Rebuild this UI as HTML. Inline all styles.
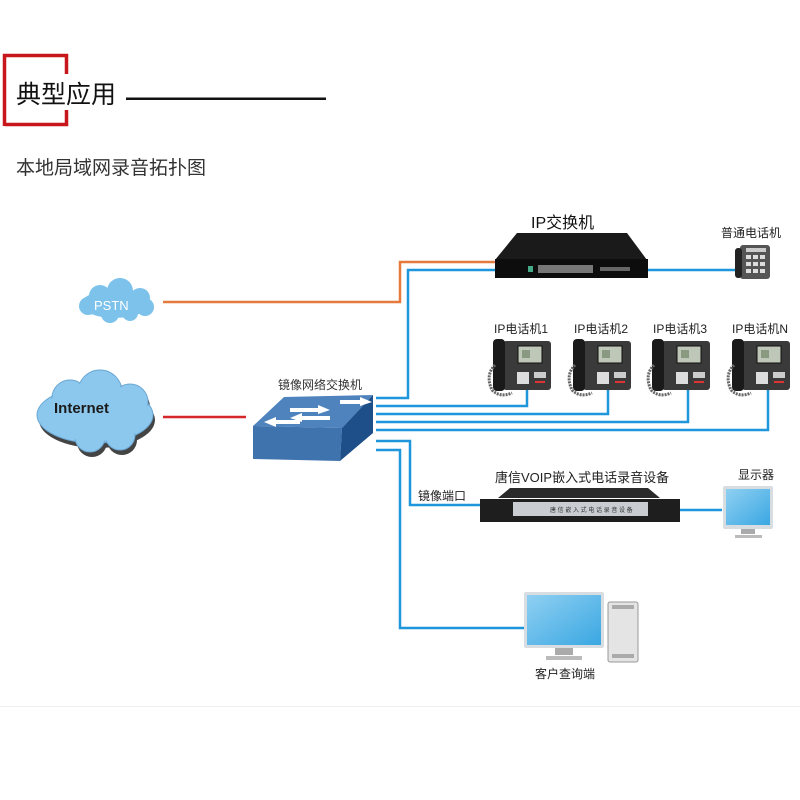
<!DOCTYPE html>
<html><head><meta charset="utf-8"><style>
html,body{margin:0;padding:0;background:#fff;}
svg{display:block;font-family:"Liberation Sans","Noto Sans CJK SC",sans-serif;}
</style></head><body>
<svg width="800" height="800" viewBox="0 0 800 800" xmlns="http://www.w3.org/2000/svg">
<defs>
<linearGradient id="scr" x1="0" y1="0" x2="1" y2="1"><stop offset="0" stop-color="#8fd0f2"/><stop offset="1" stop-color="#3aa7e2"/></linearGradient>
</defs>
<path d="M4.5 126 V55.5 H66.5 V74 M66.5 110 V124.5 H4.5" fill="none" stroke="#c8161d" stroke-width="3.5"/>
<text x="16" y="103" font-size="25" fill="#111">典型应用</text>
<rect x="126" y="97.5" width="200" height="2.5" fill="#111"/>
<text x="16" y="174" font-size="19" fill="#333">本地局域网录音拓扑图</text>

<g fill="none" stroke-width="2.5">
<path d="M163 302 H400 V262 H497" stroke="#e57a3c"/>
<path d="M163 417 H246" stroke="#d4272a"/>
<g stroke="#1e96dc">
<path d="M376 398 H408 V270 H497"/>
<path d="M648 270 H745"/>
<path d="M376 406 H527 V388"/>
<path d="M376 414 H608 V388"/>
<path d="M376 422 H688 V388"/>
<path d="M376 430 H768 V388"/>
<path d="M376 441 H410 V505 H485"/>
<path d="M376 450 H400 V628 H527"/>
<path d="M678 510 H722"/>
</g>
</g>

<g fill="#7cc2ea">
<ellipse cx="115" cy="304" rx="34" ry="14"/>
<circle cx="100" cy="296" r="11"/><circle cx="120" cy="291" r="13"/><circle cx="140" cy="298" r="10"/>
<circle cx="88" cy="306" r="9"/><circle cx="145" cy="307" r="9"/><circle cx="110" cy="314" r="9"/><circle cx="130" cy="313" r="8"/>
</g>
<text x="94" y="310" font-size="13" fill="#fff">PSTN</text>

<g fill="#444" transform="translate(2,5)">
<ellipse cx="95" cy="415" rx="58" ry="28"/><circle cx="70" cy="398" r="18"/><circle cx="100" cy="392" r="22"/><circle cx="130" cy="402" r="18"/><circle cx="90" cy="437" r="15"/><circle cx="120" cy="435" r="15"/>
</g>
<g fill="#8cc8ee" stroke="#6aa8d4" stroke-width="1">
<ellipse cx="95" cy="415" rx="58" ry="28"/><circle cx="70" cy="398" r="18"/><circle cx="100" cy="392" r="22"/><circle cx="130" cy="402" r="18"/><circle cx="90" cy="437" r="15"/><circle cx="120" cy="435" r="15"/>
</g>
<g fill="#8cc8ee">
<ellipse cx="95" cy="415" rx="56" ry="26"/><circle cx="70" cy="398" r="17"/><circle cx="100" cy="392" r="21"/><circle cx="130" cy="402" r="17"/><circle cx="90" cy="437" r="14"/><circle cx="120" cy="435" r="14"/>
</g>
<text x="54" y="413" font-size="15" font-weight="bold" fill="#1a1a1a">Internet</text>

<text x="278" y="389" font-size="12" fill="#333">镜像网络交换机</text>
<polygon points="253,426 284,397 373,395 342,428" fill="#4f83bd"/>
<polygon points="253,426 342,428 340,461 253,459" fill="#3f73ad"/>
<polygon points="342,428 373,395 373,433 340,461" fill="#1f4f88"/>
<g fill="#fff">
<polygon points="290,408 318,408 318,405 330,410 318,414 318,412 290,412"/>
<polygon points="330,416 302,416 302,413 290,418 302,422 302,420 330,420"/>
<polygon points="276,420 300,420 300,424 276,424 276,427 264,422 276,417"/>
<polygon points="340,400 360,400 360,397 372,402 360,406 360,404 340,404"/>
</g>

<text x="531" y="228" font-size="16" fill="#111">IP交换机</text>
<polygon points="517,233 627,233 647,260 495,260" fill="#1a1a1a"/>
<rect x="495" y="259" width="153" height="19" fill="#0d0d0d"/>
<rect x="538" y="265" width="55" height="8" fill="#777"/>
<rect x="528" y="266" width="5" height="6" fill="#4a8"/>
<rect x="600" y="267" width="30" height="4" fill="#666"/>

<text x="721" y="237" font-size="12" fill="#222">普通电话机</text>
<rect x="740" y="245" width="30" height="34" rx="3" fill="#555"/>
<rect x="735" y="248" width="7" height="30" rx="3" fill="#222"/>
<rect x="746" y="248" width="20" height="4" fill="#ccc"/>
<g fill="#ddd"><rect x="746" y="255" width="5" height="4"/><rect x="753" y="255" width="5" height="4"/><rect x="760" y="255" width="5" height="4"/><rect x="746" y="262" width="5" height="4"/><rect x="753" y="262" width="5" height="4"/><rect x="760" y="262" width="5" height="4"/><rect x="746" y="269" width="5" height="4"/><rect x="753" y="269" width="5" height="4"/><rect x="760" y="269" width="5" height="4"/></g>

<g id="ph">
<rect x="503" y="341" width="48" height="49" rx="3" fill="#3a3a3a"/>
<rect x="493" y="339" width="12" height="52" rx="4" fill="#1a1a1a"/>
<path d="M495 365 q-10 10 -3 25 q8 8 20 3" fill="none" stroke="#666" stroke-width="3" stroke-dasharray="2 1"/>
<rect x="518" y="346" width="24" height="17" fill="#bfc7b8" stroke="#111"/>
<rect x="522" y="350" width="8" height="8" fill="#8a9a80"/>
<rect x="517" y="372" width="12" height="12" fill="#ddd"/>
<rect x="534" y="372" width="12" height="6" fill="#ccc"/>
<rect x="535" y="381" width="10" height="2" fill="#d33"/>
</g>
<use href="#ph" transform="translate(80,0)"/>
<use href="#ph" transform="translate(159,0)"/>
<use href="#ph" transform="translate(239,0)"/>
<g font-size="12" fill="#222">
<text x="494" y="333">IP电话机1</text>
<text x="574" y="333">IP电话机2</text>
<text x="653" y="333">IP电话机3</text>
<text x="732" y="333">IP电话机N</text>
</g>

<text x="495" y="482" font-size="13" fill="#222">唐信VOIP嵌入式电话录音设备</text>
<text x="418" y="500" font-size="12" fill="#222">镜像端口</text>
<polygon points="510,488 648,488 660,498 498,498" fill="#2a2a2a"/>
<rect x="480" y="499" width="200" height="23" fill="#1e1e1e"/>
<rect x="513" y="502" width="135" height="14" fill="#c9ccd0"/>
<text x="550" y="512" font-size="6" fill="#333">唐 信 嵌 入 式 电 话 录 音 设 备</text>

<text x="738" y="479" font-size="12" fill="#222">显示器</text>
<rect x="723" y="486" width="50" height="43" rx="2" fill="#d8dde2"/>
<rect x="726" y="489" width="44" height="36" fill="url(#scr)"/>
<rect x="741" y="529" width="14" height="5" fill="#aaa"/>
<rect x="735" y="535" width="27" height="3" fill="#bbb"/>

<rect x="524" y="592" width="80" height="56" rx="2" fill="#d8dde2"/>
<rect x="527" y="595" width="74" height="50" fill="url(#scr)"/>
<rect x="555" y="648" width="18" height="7" fill="#aaa"/>
<rect x="546" y="656" width="36" height="4" fill="#bbb"/>
<rect x="608" y="602" width="30" height="60" rx="2" fill="#e4e4e4" stroke="#999"/>
<rect x="612" y="605" width="22" height="4" fill="#aaa"/>
<rect x="612" y="654" width="22" height="4" fill="#aaa"/>
<text x="535" y="678" font-size="12" fill="#222">客户查询端</text>

<rect x="0" y="706" width="800" height="1" fill="#eee"/>
</svg>
</body></html>
